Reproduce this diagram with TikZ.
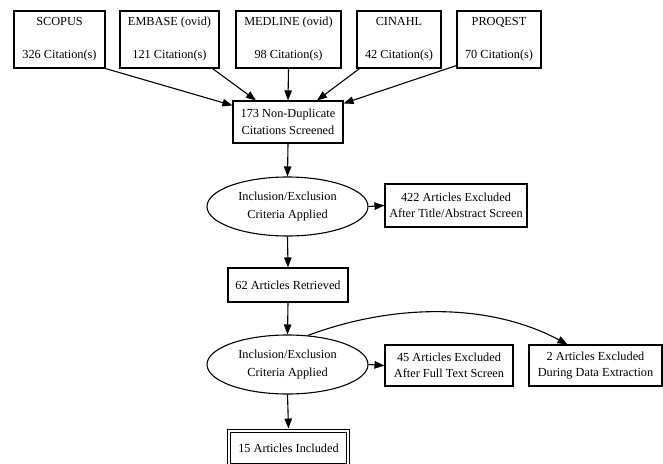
\documentclass[tikz,border=0pt]{standalone}
\usepackage{fontspec}
\setmainfont{Liberation Serif}
\usetikzlibrary{arrows.meta,shapes.geometric}
\tikzset{
  box/.style={draw, rectangle, line width=1.1pt, inner sep=0pt, align=center, font=\fontsize{12.3}{16.5}\selectfont},
  oval/.style={draw, ellipse, line width=1.1pt, inner sep=0pt, align=center, minimum width=161pt, minimum height=59pt, font=\fontsize{12.3}{17.5}\selectfont},
  arr/.style={line width=1.1pt, -{Triangle[length=10pt,width=7.5pt]}},
}
\begin{document}
\begin{tikzpicture}[x=1pt,y=-1pt]
\useasboundingbox (0,0) rectangle (663,463);
% sources
\node[box, minimum width=91pt, minimum height=57pt] (scopus) at (59.5,39.5) {SCOPUS\\ \\326 Citation(s)};
\node[box, minimum width=99pt, minimum height=57pt] (embase) at (169.5,39.5) {EMBASE (ovid)\\ \\121 Citation(s)};
\node[box, minimum width=105pt, minimum height=57pt] (medline) at (288.5,39.5) {MEDLINE (ovid)\\ \\98 Citation(s)};
\node[box, minimum width=84pt, minimum height=57pt] (cinahl) at (399,39.5) {CINAHL\\ \\42 Citation(s)};
\node[box, minimum width=84pt, minimum height=57pt] (proqest) at (499,39.5) {PROQEST\\ \\70 Citation(s)};
% screened
\node[box, minimum width=110pt, minimum height=42pt] (nondup) at (288,122) {173 Non-Duplicate\\Citations Screened};
\node[oval] (crit1) at (287.5,206.5) {Inclusion/Exclusion\\Criteria Applied};
\node[box, minimum width=142pt, minimum height=43pt] (excl1) at (456,205.5) {422 Articles Excluded\\After Title/Abstract Screen};
\node[box, minimum width=120pt, minimum height=34pt] (retr) at (288,285) {62 Articles Retrieved};
\node[oval] (crit2) at (287.5,364.5) {Inclusion/Exclusion\\Criteria Applied};
\node[box, minimum width=128pt, minimum height=41pt] (excl2) at (449,365.5) {45 Articles Excluded\\After Full Text Screen};
\node[box, minimum width=133pt, minimum height=41pt] (excl3) at (595.5,365.5) {2 Articles Excluded\\During Data Extraction};
\node[box, minimum width=119pt, minimum height=34pt, double distance=2.2pt, line width=0.9pt] (incl) at (288.5,448) {15 Articles Included};
% edges
\draw[arr] (scopus.south east) -- ([yshift=-5pt]nondup.north west);
\draw[arr] ([xshift=-7pt]embase.south east) -- ([xshift=-32pt]nondup.north);
\draw[arr] (medline.south) -- (nondup.north);
\draw[arr] ([xshift=3pt]cinahl.south west) -- ([xshift=29pt]nondup.north);
\draw[arr] ([yshift=3pt]proqest.south west) -- ([yshift=-3pt]nondup.north east);
\draw[arr] (nondup.south) -- (crit1.north);
\draw[arr] (crit1.east) -- (excl1.west);
\draw[arr] (crit1.south) -- (retr.north);
\draw[arr] (retr.south) -- (crit2.north);
\draw[arr] (crit2.east) -- (excl2.west);
\draw[arr] (crit2.south) -- ([yshift=2pt]incl.north);
\draw[arr] (crit2.55) .. controls (395,303) and (490,303) .. ([xshift=-28pt]excl3.north);
\end{tikzpicture}
\end{document}
